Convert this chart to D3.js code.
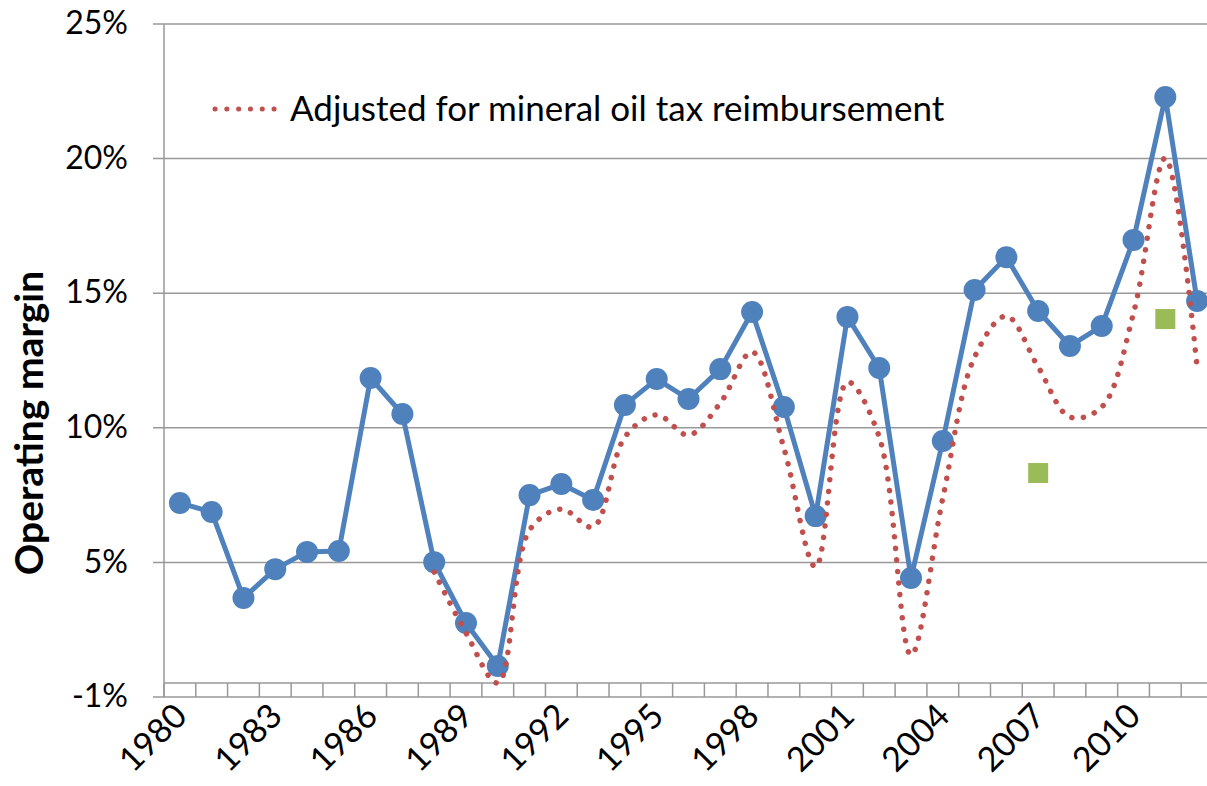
<!DOCTYPE html>
<html>
<head>
<meta charset="utf-8">
<script src="https://cdn.jsdelivr.net/npm/d3@7"></script>
<style>
  body { margin: 0; background: #fff; }
  svg { display: block; font-family: Lato, "Open Sans", sans-serif; }
</style>
</head>
<body>
<svg></svg>
<script>
var width = 1207;
var height = 786;

// years on the category axis
var years = d3.range(1980, 2013);
var yearLabels = [1980, 1983, 1986, 1989, 1992, 1995, 1998, 2001, 2004, 2007, 2010];

// operating margin (blue markers)
var margin = [7.21, 6.87, 3.68, 4.75, 5.39, 5.42, 11.85, 10.51, 5.01, 2.75,
              1.15, 7.50, 7.91, 7.32, 10.85, 11.81, 11.07, 12.18, 14.30, 10.77,
              6.72, 14.12, 12.22, 4.42, 9.51, 15.12, 16.34, 14.34, 13.04, 13.78,
              16.98, 22.29, 14.71];

// adjusted for mineral oil tax reimbursement, from 1988
var adjYears = d3.range(1988, 2013);
var adjusted = [4.64, 2.38, 0.52, 6.20, 6.98, 6.32, 9.66, 10.48, 9.73, 10.92,
                12.82, 9.25, 4.83, 11.70, 9.66, 1.56, 7.39, 12.63, 14.15, 12.26,
                10.40, 10.77, 14.26, 20.02, 12.22];

// two single points (green squares)
var extraYears = [2007, 2011];
var extraValues = [8.32, 14.04];

var yTicks = [0, 5, 10, 15, 20, 25];
var yTickLabels = ["-1%", "5%", "10%", "15%", "20%", "25%"];

var x = d3.scaleBand()
          .domain(years)
          .range([164, 1213])
          .padding(0);

var y = d3.scaleLinear()
          .domain([0, 25])
          .range([697, 24]);

var cx = d => x(d) + x.bandwidth() / 2;

var svg = d3.select("svg")
            .attr("width", width)
            .attr("height", height);

// gridlines + y labels
svg.append("g")
    .selectAll("line")
    .data(yTicks)
    .enter()
    .append("line")
        .attr("x1", 153)
        .attr("x2", width)
        .attr("y1", d => y(d))
        .attr("y2", d => y(d))
        .attr("stroke", "#999")
        .attr("stroke-width", 1.5);

svg.append("g")
    .selectAll("text")
    .data(yTicks)
    .enter()
    .append("text")
        .attr("x", 128)
        .attr("y", d => y(d) - 1)
        .attr("dy", "0.35em")
        .style("text-anchor", "end")
        .style("font-size", "32px")
        .text((d, i) => yTickLabels[i]);

// value axis line
svg.append("line")
    .attr("x1", 164).attr("x2", 164)
    .attr("y1", y(25)).attr("y2", y(0))
    .attr("stroke", "#999")
    .attr("stroke-width", 1.5);

// category axis, crossing a little above the bottom gridline
var axisY = y(0.52);
svg.append("line")
    .attr("x1", 164).attr("x2", width)
    .attr("y1", axisY).attr("y2", axisY)
    .attr("stroke", "#999")
    .attr("stroke-width", 1.5);

svg.append("g")
    .selectAll("line")
    .data(years.concat([2013]))
    .enter()
    .append("line")
        .attr("x1", d => d === 2013 ? 1213 : x(d))
        .attr("x2", d => d === 2013 ? 1213 : x(d))
        .attr("y1", axisY)
        .attr("y2", y(0))
        .attr("stroke", "#999")
        .attr("stroke-width", 1.5);

svg.append("g")
    .selectAll("text")
    .data(yearLabels)
    .enter()
    .append("text")
        .attr("transform", d => "translate(" + (cx(d) + 9) + ", 718) rotate(-45)")
        .style("text-anchor", "end")
        .style("font-size", "34px")
        .text(d => d);

// y axis title
svg.append("text")
    .attr("transform", "translate(43, 423) rotate(-90)")
    .style("text-anchor", "middle")
    .style("font-size", "39px")
    .style("font-weight", "bold")
    .text("Operating margin");

// blue series
var line = d3.line()
             .x(d => cx(d[0]))
             .y(d => y(d[1]));

var blueData = years.map((d, i) => [d, margin[i]]);

svg.append("path")
    .datum(blueData)
    .attr("d", line)
    .attr("fill", "none")
    .attr("stroke", "#4F81BD")
    .attr("stroke-width", 5)
    .attr("stroke-linejoin", "round");

svg.append("g")
    .selectAll("circle")
    .data(blueData)
    .enter()
    .append("circle")
        .attr("cx", d => cx(d[0]))
        .attr("cy", d => y(d[1]))
        .attr("r", 11)
        .attr("fill", "#4F81BD");

// red dotted smooth series
var smooth = d3.line()
               .x(d => cx(d[0]))
               .y(d => y(d[1]))
               .curve(d3.curveCatmullRom.alpha(0.5));

svg.append("path")
    .datum(adjYears.map((d, i) => [d, adjusted[i]]))
    .attr("d", smooth)
    .attr("fill", "none")
    .attr("stroke", "#C0504D")
    .attr("stroke-width", 5.5)
    .attr("stroke-linecap", "round")
    .attr("stroke-dasharray", "0.1 11.5");

// green squares
svg.append("g")
    .selectAll("rect")
    .data(extraYears)
    .enter()
    .append("rect")
        .attr("x", d => cx(d) - 10)
        .attr("y", (d, i) => y(extraValues[i]) - 10)
        .attr("width", 20)
        .attr("height", 20)
        .attr("fill", "#9BBB59");

// legend
svg.append("line")
    .attr("x1", 215).attr("x2", 277)
    .attr("y1", 109).attr("y2", 109)
    .attr("stroke", "#C0504D")
    .attr("stroke-width", 5)
    .attr("stroke-linecap", "round")
    .attr("stroke-dasharray", "0.1 11.7");

svg.append("text")
    .attr("x", 290)
    .attr("y", 121)
    .style("font-size", "35px")
    .text("Adjusted for mineral oil tax reimbursement");
</script>
</body>
</html>
